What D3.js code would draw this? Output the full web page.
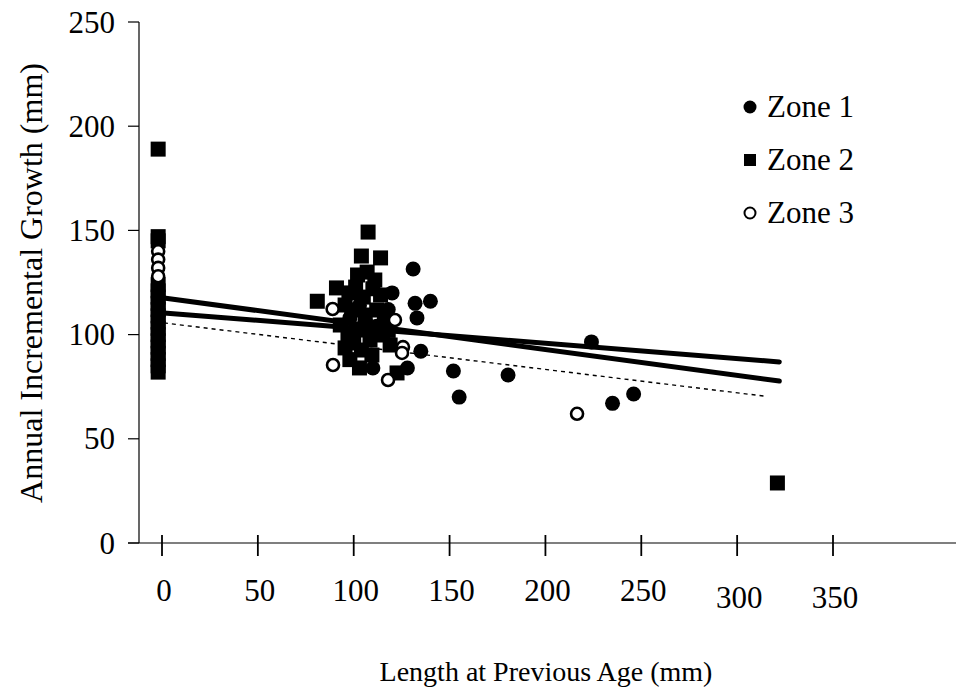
<!DOCTYPE html>
<html>
<head>
<meta charset="utf-8">
<script src="https://cdn.jsdelivr.net/npm/d3@7"></script>
<style>
  body { margin: 0; background: #fff; }
  svg { display: block; }
  text { font-family: "Liberation Serif", "Times New Roman", serif; fill: #000; }
</style>
</head>
<body>
<svg id="chart" width="956" height="695"></svg>
<script>
// ---- data ----
const xTicks = [0, 50, 100, 150, 200, 250, 300, 350];
const yTicks = [0, 50, 100, 150, 200, 250];

const zone1X = [131, 120, 132, 140, 133, 135, 128, 110, 152, 155, 180.5, 224, 235, 246, 103, 112, 98, 118];
const zone1Y = [131.5, 120, 115, 116, 108, 92, 84, 84, 82.5, 70, 80.6, 96.5, 67, 71.5, 114, 104, 108, 112];

const zone2X = [-2, -2, -2, -2, -2, -2, -2, -2, -2, -2, -2, -2, -2, -2, -2, -2, -2, -2,
                81, 91, 97.5, 104, 107.5, 114, 107, 101, 95.5, 93, 95.5, 103, 104, 101, 112, 114, 116, 115, 108.5, 109.5, 122.6, 119, 106, 99, 111, 102,
                97, 105, 110, 100, 113, 98, 106, 118, 321];
const zone2Y = [189, 147, 145, 124, 121, 118, 115, 112, 109, 106, 103, 100, 97, 94, 91, 88, 85, 82,
                116, 122.4, 120, 137.7, 149.2, 136.8, 130, 122.8, 114.2, 104.6, 93.6, 84, 92.6, 102.2, 111.8, 119, 107, 99.8, 97.4, 90.2, 81.6, 95, 109.4, 111.8, 126.2, 128.6,
                99, 118, 122, 96, 103, 88, 104, 102, 28.8];

const zone3X = [-2, -2, -2, -2, 89, 121.5, 125.7, 125.2, 89.2, 117.9, 216.5];
const zone3Y = [140, 136, 132, 128, 112.3, 107, 94, 91.2, 85.4, 78.2, 62];

const trendNames = ["Zone 1", "Zone 2", "Zone 3"];
const trendX0 = [1, 1, 1];
const trendY0 = [110.4, 117.6, 105.6];
const trendX1 = [322, 322, 314];
const trendY1 = [86.9, 77.7, 70.5];

const legendLabels = ["Zone 1", "Zone 2", "Zone 3"];

// ---- drawing ----
const svg = d3.select("#chart");
const x = d3.scaleLinear().domain([0, 350]).range([162, 833]);
const y = d3.scaleLinear().domain([0, 250]).range([543, 22]);
const TICK_FS = 31;

// y axis
svg.append("line").attr("x1", 139).attr("x2", 139).attr("y1", y(250)).attr("y2", y(0))
  .attr("stroke", "#000").attr("stroke-width", 1.2);
svg.selectAll(".ytick").data(yTicks).enter().append("line")
  .attr("x1", 128).attr("x2", 139).attr("y1", d => y(d)).attr("y2", d => y(d))
  .attr("stroke", "#000").attr("stroke-width", 1.2);
svg.selectAll(".ylab").data(yTicks).enter().append("text")
  .attr("x", 115).attr("y", d => y(d) + 10.5).attr("text-anchor", "end")
  .attr("font-size", TICK_FS).text(d => d);

// x axis
svg.append("line").attr("x1", 128).attr("x2", 956).attr("y1", y(0)).attr("y2", y(0))
  .attr("stroke", "#000").attr("stroke-width", 1.2);
svg.selectAll(".xtick").data(xTicks).enter().append("line")
  .attr("x1", d => x(d)).attr("x2", d => x(d)).attr("y1", y(0) - 8).attr("y2", y(0) + 13)
  .attr("stroke", "#000").attr("stroke-width", 1.8);
svg.selectAll(".xlab").data(xTicks).enter().append("text")
  .attr("x", d => x(d) + 2).attr("y", (d, i) => i >= 6 ? 608 : 601).attr("text-anchor", "middle")
  .attr("font-size", TICK_FS).text(d => d);

// axis titles
svg.append("text").attr("x", 546).attr("y", 681).attr("text-anchor", "middle")
  .attr("font-size", 28).text("Length at Previous Age (mm)");
svg.append("text").attr("transform", "translate(42,283) rotate(-90)").attr("text-anchor", "middle")
  .attr("font-size", 32).text("Annual Incremental Growth (mm)");

// trend lines
trendNames.forEach((n, i) => {
  const dashed = i === 2;
  svg.append("line")
    .attr("x1", x(trendX0[i])).attr("y1", y(trendY0[i]))
    .attr("x2", x(trendX1[i])).attr("y2", y(trendY1[i]))
    .attr("stroke", "#000")
    .attr("stroke-width", dashed ? 1.4 : 5)
    .attr("stroke-linecap", dashed ? "butt" : "round")
    .attr("stroke-dasharray", dashed ? "4,4" : null);
});

// zone 1: filled circles
svg.selectAll(".z1").data(zone1X).enter().append("circle")
  .attr("cx", (d) => x(d)).attr("cy", (d, i) => y(zone1Y[i])).attr("r", 7.5).attr("fill", "#000");
// zone 2: filled squares
svg.selectAll(".z2").data(zone2X).enter().append("rect")
  .attr("x", d => x(d) - 7.5).attr("y", (d, i) => y(zone2Y[i]) - 7.5)
  .attr("width", 15).attr("height", 15).attr("fill", "#000");
// zone 3: open circles
svg.selectAll(".z3").data(zone3X).enter().append("circle")
  .attr("cx", d => x(d)).attr("cy", (d, i) => y(zone3Y[i])).attr("r", 6)
  .attr("fill", "#fff").attr("stroke", "#000").attr("stroke-width", 2.6);

// legend
const lg = svg.append("g");
legendLabels.forEach((lab, i) => {
  const cy = 107 + i * 53;
  if (i === 0) lg.append("circle").attr("cx", 750).attr("cy", cy).attr("r", 6.5).attr("fill", "#000");
  if (i === 1) lg.append("rect").attr("x", 744).attr("y", cy - 6).attr("width", 12).attr("height", 12).attr("fill", "#000");
  if (i === 2) lg.append("circle").attr("cx", 750).attr("cy", cy).attr("r", 5.5).attr("fill", "#fff").attr("stroke", "#000").attr("stroke-width", 2);
  lg.append("text").attr("x", 767).attr("y", cy + 10).attr("font-size", 31).text(lab);
});
</script>
</body>
</html>
